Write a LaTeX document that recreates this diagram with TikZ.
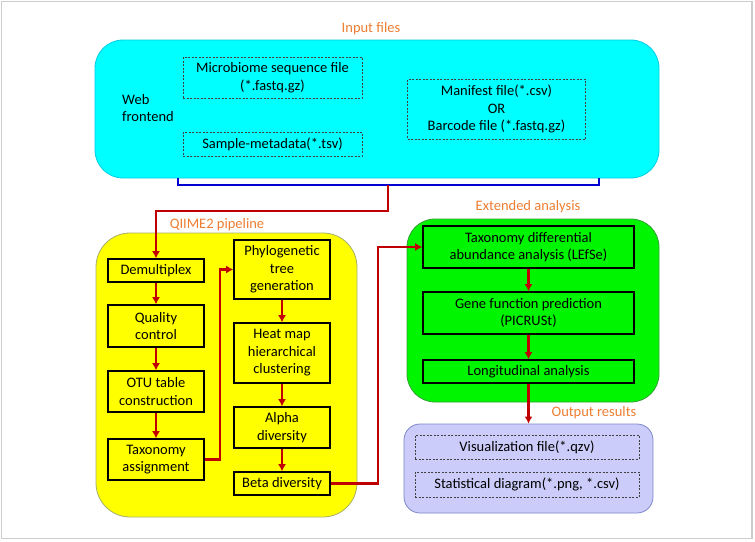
\documentclass[tikz,border=0pt]{standalone}
\usepackage{fontspec}
\setmainfont{Carlito}
\usetikzlibrary{arrows.meta,shapes}

\definecolor{webcyan}{RGB}{0,255,255}
\definecolor{webline}{RGB}{0,205,230}
\definecolor{qyellow}{RGB}{255,255,0}
\definecolor{qline}{RGB}{165,175,105}
\definecolor{extgreen}{RGB}{0,245,0}
\definecolor{extline}{RGB}{50,160,50}
\definecolor{outlilac}{RGB}{204,204,250}
\definecolor{outline}{RGB}{125,135,200}
\definecolor{headorange}{RGB}{237,125,49}
\definecolor{flowred}{RGB}{192,0,0}
\definecolor{bracketblue}{RGB}{0,0,210}

\begin{document}
\begin{tikzpicture}[x=1pt,y=-1pt]
\tikzstyle{every node} = [font=\fontsize{14.5}{17.5}\selectfont, align=center, inner sep=0pt]
\tikzstyle{panel} = [rectangle, rounded corners=28pt, line width=0.8pt]
\tikzstyle{stage} = [rectangle, draw=black, line width=1.6pt]
\tikzstyle{filebox} = [rectangle, draw=black!75, dash pattern=on 2pt off 1.5pt, line width=0.6pt]
\tikzstyle{heading} = [text=headorange]
\tikzstyle{flow} = [draw=flowred, line width=2.6pt, -{Latex[length=7pt,width=8pt]}]
\useasboundingbox (0,0) rectangle (755,541);
\draw[gray!40, line width=1.5pt] (1.5,1.5) rectangle (752,538.5);

% input files
\node[heading] (inlabel) at (371,29) {Input files};
\node[panel, fill=webcyan, draw=webline, minimum width=564pt, minimum height=138pt] (input) at (377,109) {};
\node[align=left] (web) at (148,108) {Web\\frontend};
\node[filebox, minimum width=179pt, minimum height=41pt] (seqfile) at (272.5,77.5) {Microbiome sequence file\\(*.fastq.gz)};
\node[filebox, minimum width=179pt, minimum height=24pt] (metafile) at (272.5,144) {Sample-metadata(*.tsv)};
\node[filebox, minimum width=178pt, minimum height=60pt] (manifest) at (496.5,109) {Manifest file(*.csv)\\OR\\Barcode file (*.fastq.gz)};

% qiime2 pipeline
\node[heading] (qlabel) at (217,225) {QIIME2 pipeline};
\node[panel, rounded corners=34pt, fill=qyellow, draw=qline, minimum width=261pt, minimum height=284pt] (qiime) at (226.5,375) {};
\node[stage, fill=qyellow, minimum width=96pt, minimum height=23pt] (demux) at (156,270.5) {Demultiplex};
\node[stage, fill=qyellow, minimum width=96pt, minimum height=42pt] (quality) at (156,326) {Quality\\control};
\node[stage, fill=qyellow, minimum width=96pt, minimum height=41pt] (otu) at (156,391.5) {OTU table\\construction};
\node[stage, fill=qyellow, minimum width=96pt, minimum height=41pt] (taxa) at (156,459.5) {Taxonomy\\assignment};
\node[stage, fill=qyellow, minimum width=96pt, minimum height=59pt] (phylo) at (282,269.5) {Phylogenetic\\tree\\generation};
\node[stage, fill=qyellow, minimum width=96pt, minimum height=60pt] (heatmap) at (282,353) {Heat map\\hierarchical\\clustering};
\node[stage, fill=qyellow, minimum width=96pt, minimum height=41pt] (alpha) at (282,427.5) {Alpha\\diversity};
\node[stage, fill=qyellow, minimum width=96pt, minimum height=23pt] (beta) at (282,483.5) {Beta diversity};

% extended analysis
\node[heading] (elabel) at (528,207) {Extended analysis};
\node[panel, fill=extgreen, draw=extline, minimum width=252pt, minimum height=183pt] (ext) at (533,310.5) {};
\node[stage, fill=extgreen, minimum width=211pt, minimum height=42pt] (lefse) at (528.5,247) {Taxonomy differential\\abundance analysis (LEfSe)};
\node[stage, fill=extgreen, minimum width=211pt, minimum height=42pt] (picrust) at (528.5,313) {Gene function prediction\\(PICRUSt)};
\node[stage, fill=extgreen, minimum width=211pt, minimum height=23pt] (longi) at (528.5,371.5) {Longitudinal analysis};

% output results
\node[heading] (olabel) at (594,413) {Output results};
\node[panel, rounded corners=16pt, fill=outlilac, draw=outline, minimum width=249pt, minimum height=89pt] (output) at (528.5,468.5) {};
\node[filebox, minimum width=224pt, minimum height=24pt] (visfile) at (527,447) {Visualization file(*.qzv)};
\node[filebox, minimum width=224pt, minimum height=25pt] (statfile) at (527,484.5) {Statistical diagram(*.png, *.csv)};

% connectors
\coordinate (bleft) at (178,178);
\coordinate (bright) at (599,178);
\coordinate (split) at (388,185);
\draw[bracketblue, line width=2pt] (bleft) -- ++(0,7) -| (bright);
\draw[flow] (split) -- ++(0,26) -| (demux.north);
\draw[flow] (demux) -- (quality);
\draw[flow] (quality) -- (otu);
\draw[flow] (otu) -- (taxa);
\draw[flow] (taxa.east) -- ++(15,0) |- (phylo.west);
\draw[flow] (phylo) -- (heatmap);
\draw[flow] (heatmap) -- (alpha);
\draw[flow] (alpha) -- (beta);
\draw[flow] (beta.east) -- ++(47,0) |- (lefse.west);
\draw[flow] (lefse) -- (picrust);
\draw[flow] (picrust) -- (longi);
\draw[flow] (longi) -- (output);
\end{tikzpicture}
\end{document}
